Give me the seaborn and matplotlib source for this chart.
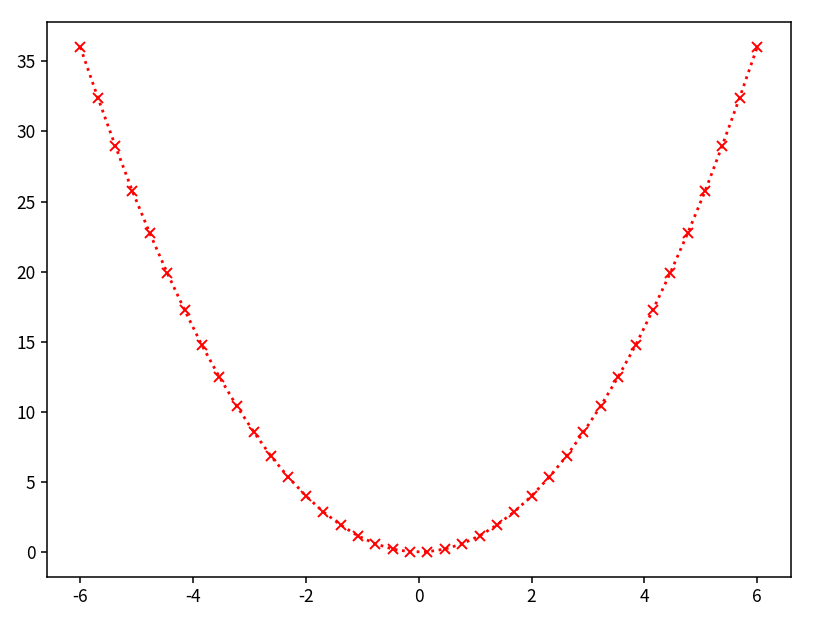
import matplotlib
matplotlib.use("Agg")
import matplotlib.pyplot as plt
import seaborn as sns
import pandas as pd

x_vals = [-6.00, -5.69, -5.38, -5.08, -4.77, -4.46, -4.15, -3.85, -3.54, -3.23,
          -2.92, -2.62, -2.31, -2.00, -1.69, -1.38, -1.08, -0.77, -0.46, -0.15,
          0.15, 0.46, 0.77, 1.08, 1.38, 1.69, 2.00, 2.31, 2.62, 2.92,
          3.23, 3.54, 3.85, 4.15, 4.46, 4.77, 5.08, 5.38, 5.69, 6.00]
y_vals = [36.00, 32.41, 28.97, 25.77, 22.75, 19.91, 17.25, 14.79, 12.52, 10.44,
          8.54, 6.84, 5.33, 4.00, 2.86, 1.92, 1.16, 0.59, 0.21, 0.02,
          0.02, 0.21, 0.59, 1.16, 1.92, 2.86, 4.00, 5.33, 6.84, 8.54,
          10.44, 12.52, 14.79, 17.25, 19.91, 22.75, 25.77, 28.97, 32.41, 36.00]
x_ticks = [-6, -4, -2, 0, 2, 4, 6]
y_ticks = [0, 5, 10, 15, 20, 25, 30, 35]

sns.set_style("ticks")
plt.rcParams['font.family'] = ['Noto Sans CJK SC', 'DejaVu Sans']
plt.rcParams['axes.unicode_minus'] = False

df = pd.DataFrame({"x": x_vals, "y": y_vals})

fig, ax = plt.subplots(figsize=(8.26, 6.17), dpi=100)
fig.subplots_adjust(left=0.0563, right=0.9576, top=0.9643, bottom=0.0648)

sns.lineplot(data=df, x="x", y="y", ax=ax, color="red", linestyle=":",
             linewidth=2.0, marker="x", markersize=7.5, markeredgecolor="red",
             markeredgewidth=1.4, sort=False)

ax.set_xticks(x_ticks)
ax.set_yticks(y_ticks)
ax.set_xlabel("")
ax.set_ylabel("")
for s in ax.spines.values():
    s.set_visible(True)
    s.set_linewidth(1.1)
    s.set_color("black")
ax.tick_params(labelsize=12.5, length=4.5, width=1.1, colors="black", labelcolor="black")
ax.grid(False)

fig.savefig("out.png", dpi=100)
